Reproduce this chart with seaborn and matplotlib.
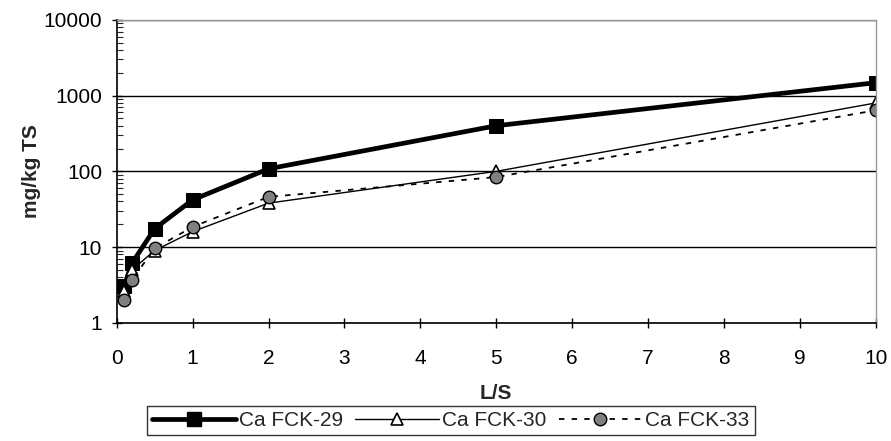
import matplotlib
matplotlib.use("Agg")
import matplotlib.pyplot as plt
import seaborn as sns
import pandas as pd
from matplotlib.ticker import FixedLocator, LogLocator, NullFormatter

sns.set_style("white")
plt.rcParams['font.family'] = ['Liberation Sans', 'DejaVu Sans']

ls_values = [0.1, 0.2, 0.5, 1, 2, 5, 10]
ca_fck29 = [3.1, 6.1, 17.5, 42, 108, 400, 1480]
ca_fck30 = [2.6, 5.0, 9.0, 16, 38, 100, 800]
ca_fck33 = [2.0, 3.7, 9.6, 18.5, 46, 84, 640]
series_names = ["Ca FCK-29", "Ca FCK-30", "Ca FCK-33"]
x_ticks = list(range(0, 11))
y_ticks = [1, 10, 100, 1000, 10000]

FS = 15

fig = plt.figure(figsize=(8.91, 4.41), dpi=100)
ax = fig.add_axes([0.131, 0.268, 0.852, 0.687])

styles = [
    dict(color="black", linewidth=3.4, marker="s", markersize=10,
         markerfacecolor="black", markeredgecolor="black", linestyle="-"),
    dict(color="black", linewidth=1.0, marker="^", markersize=9,
         markerfacecolor="white", markeredgecolor="black", markeredgewidth=1.2, linestyle="-"),
    dict(color="black", linewidth=1.3, marker="o", markersize=9,
         markerfacecolor="#808080", markeredgecolor="black", markeredgewidth=1.0,
         linestyle=(0, (3, 4))),
]

handles = []
for name, vals, st in zip(series_names, [ca_fck29, ca_fck30, ca_fck33], styles):
    df = pd.DataFrame({"L/S": ls_values, "val": vals})
    sns.lineplot(data=df, x="L/S", y="val", ax=ax, **st)
    h, = ax.plot([], [], **st)
    handles.append(h)

ax.set_yscale("log")
ax.set_xlim(0, 10)
ax.set_ylim(1, 10000)
ax.xaxis.set_major_locator(FixedLocator(x_ticks))
ax.yaxis.set_major_locator(FixedLocator(y_ticks))
ax.set_xticklabels([str(t) for t in x_ticks])
ax.set_yticklabels([str(t) for t in y_ticks])
ax.yaxis.set_minor_locator(LogLocator(base=10, subs=range(2, 10)))
ax.yaxis.set_minor_formatter(NullFormatter())

ax.grid(axis="y", which="major", color="black", linewidth=1.0)
ax.set_axisbelow(True)
for s in ["left", "bottom"]:
    ax.spines[s].set_color("black")
    ax.spines[s].set_linewidth(1.2)
for s in ["top", "right"]:
    ax.spines[s].set_color("#999999")
    ax.spines[s].set_linewidth(1.0)

ax.tick_params(axis="both", which="major", direction="inout", length=7, width=1.0,
               labelsize=FS, colors="black", left=True, bottom=True)
ax.tick_params(axis="y", which="minor", direction="in", length=4, width=0.8, left=True)
ax.tick_params(axis="x", which="major", pad=15)
ax.tick_params(axis="y", which="major", pad=7)

ax.set_xlabel("L/S", fontsize=FS, fontweight="bold", labelpad=12)
ax.set_ylabel("mg/kg TS", fontsize=FS, fontweight="bold", labelpad=2)

leg = fig.legend(handles, series_names, loc="upper center", bbox_to_anchor=(0.506, 1 - 406 / 441),
                 ncol=3, frameon=True, fontsize=FS, handlelength=4.0,
                 handletextpad=0.15, columnspacing=0.6, borderpad=0.25,
                 fancybox=False, edgecolor="black", borderaxespad=0.0)
leg.get_frame().set_linewidth(1.0)

fig.savefig("out.png", dpi=100)
